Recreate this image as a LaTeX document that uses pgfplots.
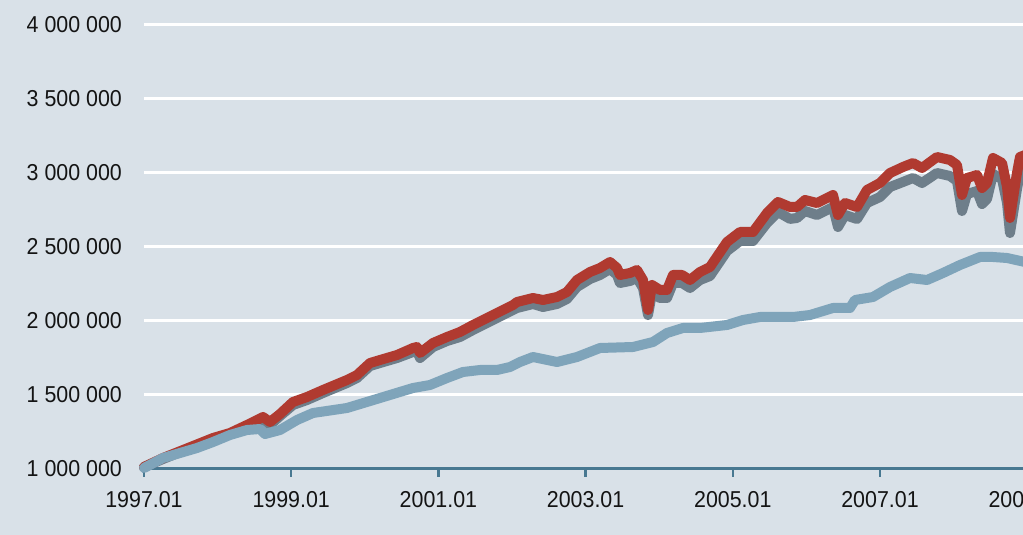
\documentclass[border=0pt]{standalone}
\usepackage{pgfplots}
\pgfplotsset{compat=1.18}
\usepackage{fontspec}
\setmainfont{Liberation Sans}[FakeStretch=0.93]
\definecolor{bgc}{RGB}{217,225,232}
\definecolor{axc}{RGB}{72,120,145}
\definecolor{redc}{RGB}{176,58,48}
\definecolor{grayc}{RGB}{110,126,138}
\definecolor{bluec}{RGB}{127,164,186}
\definecolor{txt}{RGB}{20,20,20}
\begin{document}
\begin{tikzpicture}[x=1pt,y=1pt]
\useasboundingbox (0,0) rectangle (1023,535);
\fill[bgc] (0,0) rectangle (1023,535);
\clip (0,0) rectangle (1023,535);
\begin{axis}[
  at={(144pt,66pt)}, anchor=south west,
  scale only axis, width=883.2pt, height=444pt,
  xmin=1997, xmax=2009, ymin=1000000, ymax=4000000,
  xtick={1997,1999,2001,2003,2005,2007,2009},
  xticklabels={1997.01,1999.01,2001.01,2003.01,2005.01,2007.01,2009.01},
  ytick={1000000,1500000,2000000,2500000,3000000,3500000,4000000},
  yticklabels={1 000 000,1 500 000,2 000 000,2 500 000,3 000 000,3 500 000,4 000 000},
  axis x line*=bottom, axis y line*=left,
  y axis line style={draw=none},
  x axis line style={draw=axc, line width=3pt, -},
  ytick style={draw=none},
  xtick style={draw=axc, line width=2.5pt},
  tick align=outside, major tick length=8pt,
  ymajorgrids, major grid style={white, line width=3pt},
  scaled y ticks=false, clip=false,
  tick label style={font=\fontsize{23}{27}\selectfont, text=txt},
  yticklabel style={inner sep=0pt, xshift=-14pt},
  xticklabel style={inner sep=0pt, yshift=-14pt},
]
\addplot[grayc, line width=10pt, line join=round, line cap=round] table {
x y
1997.000 1013514
1997.258 1067567
1997.530 1121621
1997.938 1202702
1998.168 1236486
1998.399 1283783
1998.617 1337837
1998.712 1297298
1998.848 1358108
1999.024 1432433
1999.215 1466216
1999.432 1513514
1999.758 1581081
1999.894 1614865
2000.071 1695946
2000.207 1716216
2000.438 1750000
2000.655 1790541
2000.709 1797297
2000.750 1750000
2000.927 1824324
2001.117 1864865
2001.293 1891892
2001.470 1939189
2001.742 2006757
2002.014 2074324
2002.068 2087837
2002.285 2114864
2002.421 2094595
2002.611 2114865
2002.747 2148649
2002.883 2229730
2003.060 2283784
2003.196 2310811
2003.332 2351352
2003.427 2310811
2003.467 2256757
2003.603 2270270
2003.698 2290541
2003.780 2222973
2003.848 2040000
2003.902 2189189
2004.011 2155405
2004.106 2155405
2004.188 2256757
2004.310 2256757
2004.418 2222973
2004.554 2277027
2004.690 2304054
2004.921 2472973
2005.098 2540540
2005.274 2540540
2005.465 2662162
2005.614 2736486
2005.777 2690000
2005.872 2695946
2005.981 2743244
2006.144 2716216
2006.361 2770270
2006.429 2635135
2006.524 2716216
2006.688 2689189
2006.823 2797297
2007.000 2837837
2007.136 2905405
2007.312 2939190
2007.448 2966217
2007.571 2932433
2007.774 3000000
2007.951 2979730
2008.046 2945946
2008.114 2743243
2008.182 2858108
2008.318 2878378
2008.386 2790541
2008.454 2824324
2008.535 2993243
2008.658 2959460
2008.726 2797297
2008.766 2594595
2008.861 2891892
2008.902 3000000
2008.970 3013514
};
\addplot[redc, line width=10pt, line join=round, line cap=round] table {
x y
1997.000 1013514
1997.258 1074324
1997.530 1128378
1997.938 1209459
1998.168 1243243
1998.399 1297297
1998.617 1351351
1998.712 1317568
1998.848 1371622
1999.024 1452703
1999.215 1486486
1999.432 1533784
1999.758 1601351
1999.894 1635135
2000.071 1716216
2000.207 1736486
2000.438 1770270
2000.655 1817568
2000.709 1824324
2000.750 1783784
2000.927 1851351
2001.117 1891892
2001.293 1925676
2001.470 1972973
2001.742 2040541
2002.014 2108108
2002.068 2128378
2002.285 2155405
2002.421 2141892
2002.611 2162162
2002.747 2195946
2002.883 2277027
2003.060 2331081
2003.196 2358108
2003.332 2398649
2003.427 2358108
2003.467 2310811
2003.603 2324324
2003.698 2344595
2003.780 2277027
2003.848 2074324
2003.902 2243243
2004.011 2209459
2004.106 2209459
2004.188 2310811
2004.310 2310811
2004.418 2277027
2004.554 2331081
2004.690 2364865
2004.921 2533784
2005.098 2601351
2005.274 2601351
2005.465 2729730
2005.614 2804054
2005.777 2770270
2005.872 2770270
2005.981 2817568
2006.144 2797297
2006.361 2851351
2006.429 2716216
2006.524 2797297
2006.688 2770270
2006.823 2885135
2007.000 2932432
2007.136 3000000
2007.312 3040541
2007.448 3067568
2007.571 3033784
2007.774 3108108
2007.951 3087838
2008.046 3054054
2008.114 2851351
2008.182 2966216
2008.318 2986486
2008.386 2898649
2008.454 2932432
2008.535 3101351
2008.658 3067568
2008.726 2905405
2008.766 2695946
2008.861 3000000
2008.902 3108108
2008.970 3121622
};
\addplot[bluec, line width=10pt, line join=round, line cap=round] table {
x y
1997.000 1006757
1997.258 1074324
1997.489 1108108
1997.720 1141892
1997.938 1182432
1998.168 1229730
1998.399 1263514
1998.576 1270270
1998.644 1236486
1998.848 1263514
1999.079 1331081
1999.296 1378378
1999.758 1412162
2000.207 1479730
2000.655 1547297
2000.886 1567568
2001.117 1614865
2001.334 1655405
2001.565 1668919
2001.796 1668919
2001.973 1689189
2002.109 1722973
2002.285 1756757
2002.611 1722973
2002.883 1756757
2003.196 1817568
2003.644 1824324
2003.916 1858108
2004.106 1918919
2004.323 1952703
2004.554 1952703
2004.921 1972973
2005.139 2006757
2005.370 2027027
2005.818 2027027
2006.049 2040541
2006.361 2087838
2006.592 2087838
2006.660 2141892
2006.905 2162162
2007.136 2229730
2007.408 2290541
2007.639 2277027
2007.856 2324324
2008.087 2378378
2008.359 2432432
2008.535 2432432
2008.726 2425676
2008.970 2398649
};
\end{axis}
\end{tikzpicture}
\end{document}
